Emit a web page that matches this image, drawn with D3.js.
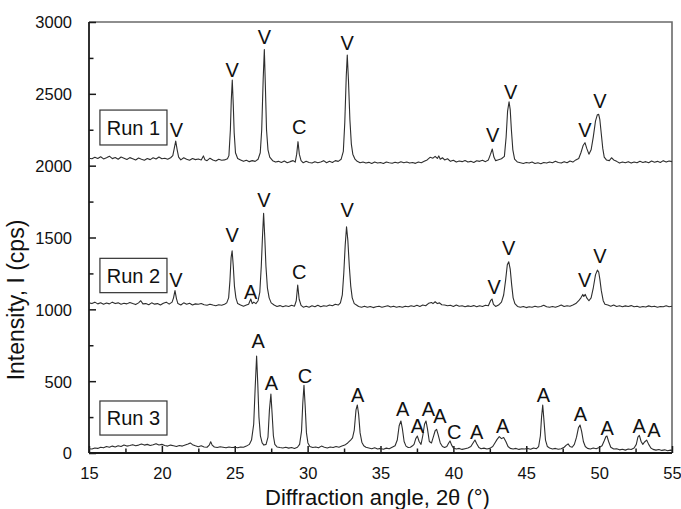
<!DOCTYPE html>
<html>
<head>
<meta charset="utf-8">
<script src="https://cdn.jsdelivr.net/npm/d3@7"></script>
<style>
  html, body { margin: 0; padding: 0; background: #fff; }
  svg { display: block; }
  text { font-family: "Liberation Sans", Arial, sans-serif; fill: #111; }
</style>
</head>
<body>
<svg id="chart" width="681" height="509"></svg>
<script>
// XRD patterns: [2θ (deg), intensity (cps)] for each run (runs are offset vertically)
const run1 = [
  [15.0,2052],[15.2,2048],[15.4,2058],[15.6,2050],[15.8,2062],[16.0,2047],[16.2,2055],[16.4,2066],[16.6,2049],[16.8,2057],
  [17.0,2045],[17.2,2060],[17.4,2052],[17.6,2043],[17.8,2056],[18.0,2048],[18.2,2040],[18.4,2053],[18.6,2045],[18.8,2038],
  [19.0,2050],[19.2,2042],[19.4,2055],[19.6,2046],[19.8,2060],[20.0,2048],[20.2,2052],[20.4,2045],[20.6,2055],[20.75,2070],
  [20.85,2120],[20.95,2171],[21.05,2110],[21.15,2060],[21.3,2040],[21.5,2055],[21.7,2045],[21.9,2038],[22.1,2050],[22.3,2042],
  [22.5,2047],[22.7,2040],[22.85,2068],[22.95,2042],[23.1,2035],[23.3,2052],[23.5,2040],[23.7,2033],[23.9,2045],[24.1,2038],
  [24.3,2040],[24.5,2048],[24.6,2070],[24.7,2250],[24.76,2450],[24.83,2596],[24.9,2420],[24.96,2230],[25.05,2090],[25.2,2050],
  [25.4,2040],[25.6,2030],[25.8,2038],[26.0,2028],[26.2,2035],[26.4,2030],[26.6,2045],[26.75,2090],[26.85,2250],[26.95,2600],
  [27.03,2809],[27.1,2560],[27.18,2250],[27.28,2110],[27.4,2060],[27.6,2035],[27.8,2025],[28.0,2030],[28.2,2022],[28.4,2032],
  [28.6,2020],[28.8,2028],[29.0,2035],[29.15,2025],[29.25,2080],[29.34,2167],[29.43,2080],[29.55,2035],[29.7,2020],[29.9,2030],
  [30.1,2022],[30.3,2018],[30.5,2028],[30.7,2020],[30.9,2025],[31.1,2035],[31.3,2020],[31.5,2030],[31.7,2022],[31.9,2035],
  [32.1,2030],[32.3,2045],[32.45,2100],[32.55,2300],[32.65,2620],[32.72,2770],[32.8,2600],[32.9,2320],[33.0,2150],[33.1,2080],
  [33.25,2045],[33.4,2030],[33.6,2020],[33.8,2025],[34.0,2018],[34.2,2023],[34.4,2015],[34.6,2025],[34.8,2018],[35.0,2022],
  [35.2,2015],[35.4,2026],[35.6,2020],[35.8,2017],[36.0,2024],[36.2,2018],[36.4,2027],[36.6,2020],[36.8,2025],[37.0,2018],
  [37.2,2022],[37.4,2016],[37.6,2025],[37.8,2020],[38.0,2030],[38.2,2040],[38.4,2058],[38.6,2052],[38.75,2065],[38.9,2050],
  [39.0,2068],[39.1,2045],[39.25,2055],[39.4,2040],[39.6,2048],[39.8,2030],[40.0,2038],[40.2,2025],[40.4,2032],[40.6,2028],
  [40.8,2036],[41.0,2025],[41.2,2030],[41.4,2022],[41.6,2034],[41.8,2030],[42.0,2038],[42.2,2028],[42.4,2040],[42.55,2080],
  [42.67,2116],[42.78,2060],[42.9,2035],[43.05,2040],[43.3,2048],[43.5,2065],[43.62,2200],[43.72,2380],[43.82,2445],[43.9,2390],
  [43.98,2250],[44.08,2110],[44.2,2045],[44.4,2025],[44.6,2020],[44.8,2015],[45.0,2022],[45.2,2018],[45.4,2025],[45.6,2015],
  [45.8,2020],[46.0,2014],[46.2,2022],[46.4,2018],[46.6,2026],[46.8,2020],[47.0,2030],[47.2,2022],[47.4,2018],[47.6,2028],
  [47.8,2020],[48.0,2032],[48.2,2025],[48.4,2040],[48.6,2050],[48.75,2090],[48.9,2140],[49.03,2160],[49.15,2120],[49.3,2080],
  [49.45,2110],[49.6,2200],[49.75,2310],[49.88,2355],[49.97,2357],[50.05,2320],[50.15,2220],[50.25,2120],[50.35,2060],[50.5,2040],
  [50.7,2035],[50.85,2055],[51.0,2040],[51.2,2030],[51.4,2018],[51.6,2025],[51.8,2020],[52.0,2028],[52.2,2018],[52.4,2026],
  [52.6,2020],[52.8,2030],[53.0,2022],[53.2,2028],[53.4,2020],[53.6,2032],[53.8,2024],[54.0,2030],[54.2,2022],[54.4,2035],
  [54.6,2025],[54.8,2033],[55.0,2028]
];

const run2 = [
  [15.0,1045],[15.2,1040],[15.4,1050],[15.6,1038],[15.8,1046],[16.0,1035],[16.2,1044],[16.4,1038],[16.6,1050],[16.8,1040],
  [17.0,1045],[17.2,1035],[17.4,1042],[17.6,1038],[17.8,1048],[18.0,1040],[18.2,1033],[18.4,1045],[18.55,1060],[18.7,1038],
  [18.9,1040],[19.1,1032],[19.3,1045],[19.5,1036],[19.7,1040],[19.9,1030],[20.1,1042],[20.3,1050],[20.5,1036],[20.7,1050],
  [20.8,1080],[20.9,1130],[21.0,1075],[21.1,1040],[21.3,1030],[21.5,1045],[21.7,1035],[21.9,1042],[22.1,1030],[22.3,1038],
  [22.5,1035],[22.7,1040],[22.9,1032],[23.1,1028],[23.3,1036],[23.5,1030],[23.7,1025],[23.9,1032],[24.1,1028],[24.3,1035],
  [24.45,1045],[24.58,1080],[24.67,1200],[24.75,1360],[24.82,1408],[24.9,1300],[24.98,1160],[25.08,1080],[25.2,1040],[25.4,1030],
  [25.6,1022],[25.8,1030],[25.95,1035],[26.1,1072],[26.2,1040],[26.3,1050],[26.45,1040],[26.6,1060],[26.72,1120],[26.82,1300],
  [26.9,1500],[26.98,1668],[27.06,1500],[27.14,1300],[27.24,1150],[27.36,1080],[27.5,1045],[27.7,1030],[27.9,1020],[28.1,1026],
  [28.3,1018],[28.5,1025],[28.7,1020],[28.9,1028],[29.1,1022],[29.22,1060],[29.32,1169],[29.42,1070],[29.55,1028],[29.7,1015],
  [29.9,1022],[30.1,1015],[30.3,1025],[30.5,1018],[30.7,1028],[30.9,1018],[31.1,1025],[31.3,1022],[31.5,1030],[31.7,1025],
  [31.9,1035],[32.1,1030],[32.25,1045],[32.38,1100],[32.48,1250],[32.58,1450],[32.67,1575],[32.76,1480],[32.86,1300],[32.96,1160],
  [33.06,1080],[33.2,1040],[33.35,1030],[33.5,1020],[33.7,1015],[33.9,1022],[34.1,1014],[34.3,1020],[34.5,1012],[34.7,1018],
  [34.9,1022],[35.1,1015],[35.3,1020],[35.5,1025],[35.7,1016],[35.9,1022],[36.1,1015],[36.3,1020],[36.5,1014],[36.7,1022],
  [36.9,1018],[37.1,1025],[37.3,1020],[37.5,1028],[37.7,1020],[37.9,1030],[38.1,1025],[38.3,1042],[38.5,1048],[38.6,1040],
  [38.75,1053],[38.9,1040],[39.05,1045],[39.2,1032],[39.4,1030],[39.6,1025],[39.8,1028],[40.0,1020],[40.2,1030],[40.4,1022],
  [40.6,1025],[40.8,1018],[41.0,1024],[41.2,1020],[41.4,1026],[41.6,1018],[41.8,1025],[42.0,1020],[42.2,1028],[42.4,1025],
  [42.55,1060],[42.65,1072],[42.75,1035],[42.9,1020],[43.1,1030],[43.3,1050],[43.45,1100],[43.58,1200],[43.7,1310],[43.8,1331],
  [43.9,1280],[44.0,1170],[44.1,1080],[44.22,1040],[44.4,1020],[44.6,1014],[44.8,1020],[45.0,1012],[45.2,1018],[45.4,1015],
  [45.6,1022],[45.8,1016],[46.0,1020],[46.2,1028],[46.4,1018],[46.6,1015],[46.8,1020],[47.0,1015],[47.2,1022],[47.4,1030],
  [47.6,1020],[47.8,1025],[48.0,1022],[48.2,1030],[48.4,1040],[48.6,1060],[48.75,1080],[48.88,1104],[48.95,1090],[49.05,1104],
  [49.15,1080],[49.3,1060],[49.45,1080],[49.6,1150],[49.75,1240],[49.88,1273],[49.97,1260],[50.05,1210],[50.15,1130],[50.28,1060],
  [50.4,1035],[50.6,1030],[50.8,1022],[51.0,1030],[51.2,1020],[51.4,1025],[51.6,1018],[51.8,1024],[52.0,1020],[52.2,1026],
  [52.4,1018],[52.6,1022],[52.8,1015],[53.0,1020],[53.2,1016],[53.4,1024],[53.6,1018],[53.8,1022],[54.0,1015],[54.2,1020],
  [54.4,1018],[54.6,1025],[54.8,1018],[55.0,1022]
];

const run3 = [
  [15.0,30],[15.2,28],[15.4,35],[15.6,32],[15.8,40],[16.0,36],[16.2,45],[16.4,40],[16.6,48],[16.8,42],
  [17.0,50],[17.2,45],[17.4,55],[17.6,48],[17.8,52],[18.0,58],[18.2,50],[18.4,55],[18.6,62],[18.8,55],
  [19.0,60],[19.2,52],[19.4,58],[19.6,65],[19.8,56],[20.0,60],[20.2,52],[20.4,48],[20.6,55],[20.8,50],
  [21.0,45],[21.2,52],[21.4,48],[21.6,55],[21.8,62],[21.95,70],[22.1,58],[22.3,50],[22.5,44],[22.7,50],
  [22.9,42],[23.1,40],[23.25,55],[23.35,78],[23.45,55],[23.6,42],[23.8,38],[24.0,44],[24.2,40],[24.4,36],
  [24.6,42],[24.8,38],[25.0,40],[25.2,36],[25.4,42],[25.6,40],[25.8,48],[26.0,60],[26.15,90],[26.3,200],
  [26.4,450],[26.5,675],[26.58,480],[26.66,250],[26.76,120],[26.88,70],[27.0,55],[27.15,60],[27.28,110],[27.38,300],
  [27.48,410],[27.56,280],[27.65,120],[27.75,60],[27.9,42],[28.1,38],[28.3,35],[28.5,40],[28.7,34],[28.9,38],
  [29.1,32],[29.3,40],[29.45,60],[29.58,150],[29.67,350],[29.75,471],[29.83,330],[29.92,140],[30.02,70],[30.15,45],
  [30.35,38],[30.55,42],[30.75,36],[30.95,48],[31.15,40],[31.35,35],[31.55,42],[31.75,38],[31.95,45],[32.15,40],
  [32.35,48],[32.55,55],[32.75,70],[32.95,90],[33.08,105],[33.2,160],[33.32,300],[33.41,334],[33.5,270],[33.6,140],
  [33.72,75],[33.85,50],[34.0,40],[34.2,35],[34.4,30],[34.6,36],[34.8,28],[35.0,32],[35.2,26],[35.4,34],
  [35.6,30],[35.8,40],[36.0,50],[36.15,90],[36.28,190],[36.4,223],[36.5,170],[36.62,80],[36.75,48],[36.9,38],
  [37.05,40],[37.2,50],[37.3,60],[37.42,100],[37.53,118],[37.65,80],[37.78,60],[37.9,120],[38.02,200],[38.12,223],
  [38.22,170],[38.35,80],[38.5,70],[38.62,110],[38.75,155],[38.85,165],[38.95,130],[39.1,70],[39.25,45],[39.4,38],
  [39.55,45],[39.68,70],[39.77,84],[39.88,55],[40.0,35],[40.2,28],[40.4,32],[40.6,25],[40.8,30],[41.0,35],
  [41.2,45],[41.35,70],[41.48,90],[41.6,65],[41.75,38],[41.9,30],[42.1,34],[42.3,28],[42.5,32],[42.7,45],
  [42.85,70],[43.0,95],[43.15,114],[43.3,100],[43.45,108],[43.6,80],[43.75,45],[43.9,32],[44.1,28],[44.3,32],
  [44.5,25],[44.7,30],[44.9,28],[45.1,32],[45.3,26],[45.5,35],[45.7,30],[45.85,45],[45.97,120],[46.05,250],
  [46.13,334],[46.22,220],[46.32,90],[46.45,45],[46.6,35],[46.8,28],[47.0,32],[47.2,26],[47.4,30],[47.6,40],
  [47.75,55],[47.87,63],[48.0,45],[48.15,40],[48.3,60],[48.45,110],[48.58,175],[48.69,195],[48.8,150],[48.92,80],
  [49.05,45],[49.2,32],[49.4,28],[49.6,35],[49.8,30],[50.0,38],[50.2,50],[50.35,85],[50.47,115],[50.54,118],
  [50.65,80],[50.8,40],[51.0,28],[51.2,30],[51.4,22],[51.6,26],[51.8,20],[52.0,28],[52.2,24],[52.4,35],
  [52.55,60],[52.66,110],[52.76,123],[52.88,80],[53.0,60],[53.1,75],[53.26,90],[53.4,60],[53.55,35],[53.7,25],
  [53.9,20],[54.1,24],[54.3,18],[54.5,22],[54.7,16],[54.9,20],[55.0,18]
];

// Phase labels: [letter, 2θ, intensity at the letter's baseline]
const peaks1 = [
  ["V",21.0,2197],["V",24.83,2619],["V",27.03,2847],["C",29.43,2220],["V",32.72,2805],
  ["V",42.69,2167],["V",43.93,2466],["V",49.03,2197],["V",50.06,2399]
];
const peaks2 = [
  ["V",20.97,1153],["V",24.83,1471],["A",26.09,1070],["V",27.0,1712],["C",29.43,1211],["V",32.72,1640],
  ["V",42.8,1107],["V",43.8,1378],["V",49.0,1153],["V",50.06,1325]
];
const peaks3 = [
  ["A",26.6,731],["A",27.51,438],["C",29.82,489],["A",33.43,357],["A",36.52,258],["A",37.53,141],
  ["A",38.28,260],["A",39.08,211],["C",40.06,97],["A",41.6,97],["A",43.38,141],["A",46.17,357],
  ["A",48.71,223],["A",50.56,125],["A",52.74,141],["A",53.76,113]
];

const runNames = ["Run 1", "Run 2", "Run 3"];
// Intensity range covered by each run's name box [top, bottom]
const runBoxRange = [[2387, 2144], [1355, 1116], [362, 125]];

const xTicks = [15, 20, 25, 30, 35, 40, 45, 50, 55];
const yTicks = [0, 500, 1000, 1500, 2000, 2500, 3000];

const svg = d3.select("#chart");
const m = { left: 89, right: 672, top: 22, bottom: 453 };

const x = d3.scaleLinear().domain([15, 55]).range([m.left, m.right]);
const y = d3.scaleLinear().domain([0, 3000]).range([m.bottom, m.top]);

// frame (top and right)
svg.append("path")
  .attr("d", `M${m.left},${m.top}H${m.right}V${m.bottom}`)
  .attr("fill", "none").attr("stroke", "#6a6a6a").attr("stroke-width", 1.6);

// minor ticks
const xMinor = d3.range(17.5, 55, 5);
const yMinor = d3.range(250, 3000, 500);

const xAxis = d3.axisBottom(x).tickValues(xTicks).tickSize(-7).tickPadding(14).tickFormat(d3.format("d"));
const yAxis = d3.axisLeft(y).tickValues(yTicks).tickSize(-7).tickPadding(17).tickFormat(d3.format("d"));

const gx = svg.append("g").attr("transform", `translate(0,${m.bottom})`).call(xAxis);
const gy = svg.append("g").attr("transform", `translate(${m.left},0)`).call(yAxis);

svg.append("g").attr("transform", `translate(0,${m.bottom})`)
  .call(d3.axisBottom(x).tickValues(xMinor).tickSize(-4.5).tickFormat(""))
  .call(g => g.select(".domain").remove());
svg.append("g").attr("transform", `translate(${m.left},0)`)
  .call(d3.axisLeft(y).tickValues(yMinor).tickSize(-4.5).tickFormat(""))
  .call(g => g.select(".domain").remove());

svg.selectAll(".domain").attr("stroke", "#1a1a1a").attr("stroke-width", 1.8);
svg.selectAll(".tick line").attr("stroke", "#1a1a1a").attr("stroke-width", 1.5);
gx.selectAll("text").style("font-size", "16.5px").attr("fill", "#111");
gy.selectAll("text").style("font-size", "16.5px").attr("fill", "#111").attr("dy", "0.36em");
gx.select(".domain").attr("d", `M${m.left},0H${m.right}`);
gy.select(".domain").attr("d", `M0,${m.bottom}V${m.top}`);

// patterns
const line = d3.line().x(d => x(d[0])).y(d => y(d[1]));
[run1, run2, run3].forEach(run => {
  svg.append("path").datum(run)
    .attr("d", line)
    .attr("fill", "none")
    .attr("stroke", "#2e2e2e")
    .attr("stroke-width", 1.1)
    .attr("stroke-linejoin", "round");
});

// phase letters
[peaks1, peaks2, peaks3].forEach(list => {
  svg.append("g").selectAll("text").data(list).join("text")
    .attr("x", d => x(d[1]))
    .attr("y", d => y(d[2]))
    .attr("text-anchor", "middle")
    .style("font-size", "20px")
    .text(d => d[0]);
});

// run name boxes
runNames.forEach((name, i) => {
  const [top, bot] = runBoxRange[i];
  const x0 = x(15.75), x1 = x(20.35);
  svg.append("rect")
    .attr("x", x0).attr("y", y(top))
    .attr("width", x1 - x0).attr("height", y(bot) - y(top))
    .attr("fill", "#fff").attr("stroke", "#333").attr("stroke-width", 1.2);
  svg.append("text")
    .attr("x", (x0 + x1) / 2)
    .attr("y", (y(top) + y(bot)) / 2)
    .attr("dy", "0.36em")
    .attr("text-anchor", "middle")
    .style("font-size", "20px")
    .text(name);
});

// axis titles
svg.append("text")
  .attr("x", (m.left + m.right) / 2 - 3)
  .attr("y", 505)
  .attr("text-anchor", "middle")
  .style("font-size", "22px")
  .text("Diffraction angle, 2θ (°)");

svg.append("text")
  .attr("transform", `translate(24,300) rotate(-90)`)
  .attr("text-anchor", "middle")
  .style("font-size", "23px")
  .text("Intensity, I (cps)");
</script>
</body>
</html>
